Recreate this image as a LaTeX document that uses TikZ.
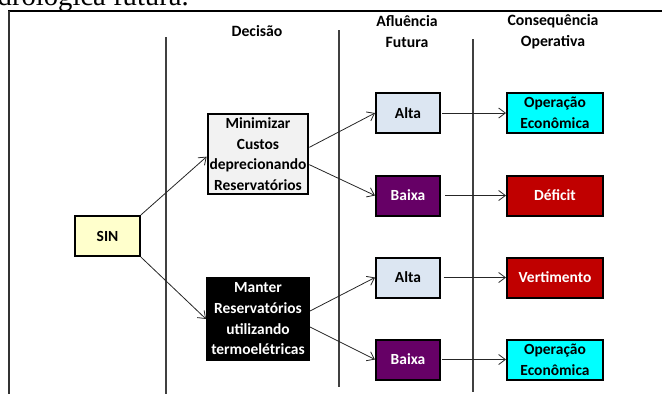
\documentclass[tikz,border=0pt]{standalone}
\usepackage{fontspec}
\setmainfont{Liberation Serif}
\newfontfamily\calibri{Carlito}
\usetikzlibrary{arrows.meta}

\definecolor{sinfill}{HTML}{FFFFCC}
\definecolor{minfill}{HTML}{F2F2F2}
\definecolor{altafill}{HTML}{DCE6F2}
\definecolor{baixafill}{HTML}{660066}
\definecolor{ecofill}{HTML}{00FFFF}
\definecolor{redfill}{HTML}{C00000}

\begin{document}
\begin{tikzpicture}[x=0.75pt, y=-0.75pt, >={Straight Barb[length=5pt,width=7.5pt]},
    caixa/.style={draw=black, line width=1.5pt, inner sep=0.5pt, align=center,
        font=\calibri\bfseries\fontsize{11.6}{15.5}\selectfont},
    cabecalho/.style={align=center, font=\calibri\bfseries\fontsize{11.8}{15.75}\selectfont},
    separador/.style={line width=0.8pt, black!75},
    seta/.style={->, line width=0.6pt, black!85}]
        \clip (0,0) rectangle (662,394);

        % texto cortado no topo
        \node[anchor=base east, inner sep=0pt, font=\fontsize{21.5}{24}\selectfont] (legenda) at (189,5.5) {hidrológica futura.};

        % moldura e colunas
        \draw[line width=1.5pt] (8,11) -- (662,11);
        \draw[line width=1.1pt, black!80] (9,11) -- (9,394);
        \draw[separador] (166,37) -- (166,394);
        \draw[separador] (339,30) -- (339,387);
        \draw[separador] (473,39) -- (473,392);

        % cabecalhos
        \node[cabecalho] (hdecisao) at (257,31) {Decisão};
        \node[cabecalho] (hafluencia) at (407,32) {Afluência\\Futura};
        \node[cabecalho] (hconseq) at (553,32) {Consequência\\Operativa};

        % caixas
        \node[caixa, fill=sinfill, minimum width=48.5pt, minimum height=30pt] (sin) at (107.5,236) {SIN};

        \node[caixa, fill=minfill, minimum width=75.5pt, minimum height=60pt] (minimizar) at (258,154) {Minimizar\\Custos\\deprecionando\\Reservatórios};
        \node[caixa, fill=black, text=white, minimum width=76.5pt, minimum height=61.5pt] (manter) at (258,319) {Manter\\Reservatórios\\utilizando\\termoelétricas};

        \node[caixa, fill=altafill, minimum width=48pt, minimum height=30pt] (alta1) at (408,113) {Alta};
        \node[caixa, fill=baixafill, text=white, minimum width=48pt, minimum height=30pt] (baixa1) at (408,195.5) {Baixa};
        \node[caixa, fill=altafill, minimum width=48pt, minimum height=30pt] (alta2) at (408,277.5) {Alta};
        \node[caixa, fill=baixafill, text=white, minimum width=48pt, minimum height=30pt] (baixa2) at (408,359.5) {Baixa};

        \node[caixa, fill=ecofill, minimum width=72pt, minimum height=30pt] (opeco1) at (555,113) {Operação\\Econômica};
        \node[caixa, fill=redfill, text=white, minimum width=72pt, minimum height=30pt] (deficit) at (555,195.5) {Déficit};
        \node[caixa, fill=redfill, text=white, minimum width=72pt, minimum height=30pt] (vertim) at (555,277.5) {Vertimento};
        \node[caixa, fill=ecofill, minimum width=72pt, minimum height=30pt] (opeco2) at (555,359.5) {Operação\\Econômica};

        % ligacoes
        \draw[seta] (sin.north east) -- ([yshift=-2pt]minimizar.west);
        \draw[seta] (sin.south east) -- (manter.west);

        \draw[seta] ([yshift=5pt]minimizar.east) -- (alta1.west);
        \draw[seta] ([yshift=-8pt]minimizar.east) -- (baixa1.west);
        \draw[seta] ([yshift=6pt]manter.east) -- (alta2.west);
        \draw[seta] ([yshift=-6pt]manter.east) -- (baixa2.west);

        \draw[seta, shorten <=1pt] (alta1) -- (opeco1);
        \draw[seta, shorten <=3pt] (baixa1) -- (deficit);
        \draw[seta, shorten <=2pt] (alta2) -- (vertim);
        \draw[seta, shorten <=1pt] (baixa2) -- (opeco2);
\end{tikzpicture}
\end{document}
